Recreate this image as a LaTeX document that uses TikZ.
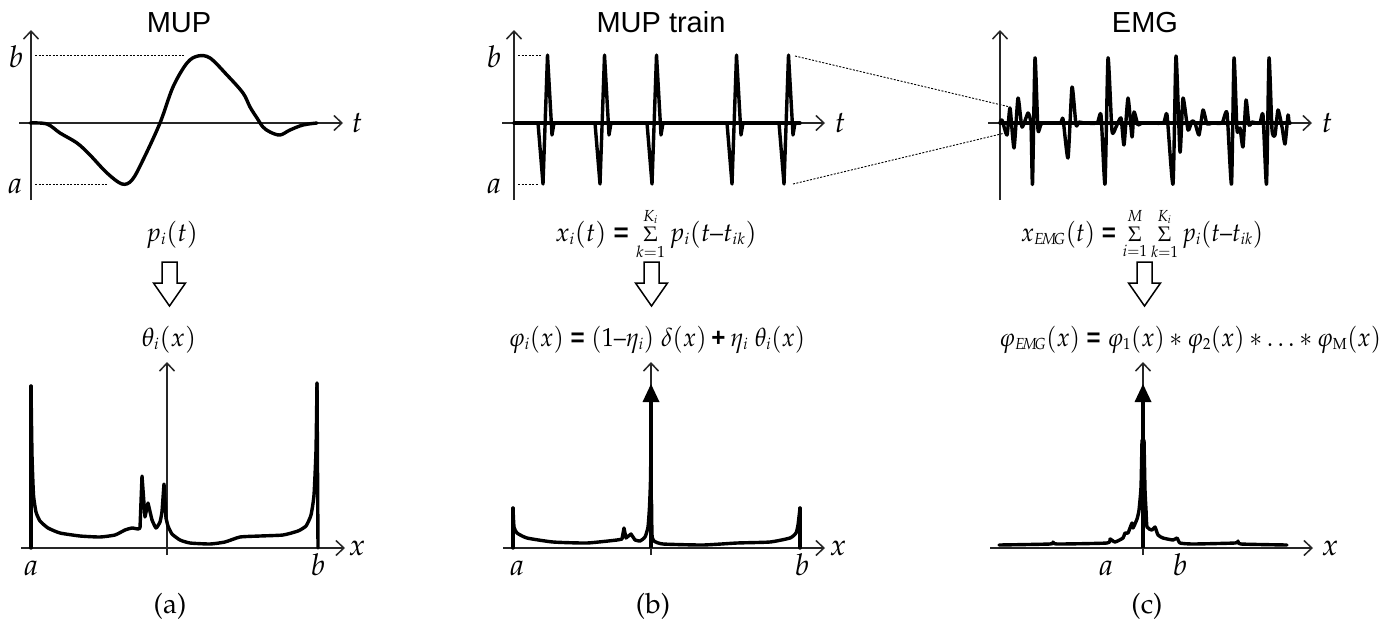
\documentclass[tikz,border=0pt]{standalone}
\usepackage{mathpazo}
\usepackage{graphicx}
\usepackage{fontspec}
\newfontfamily\titlefont{Liberation Sans}
\usetikzlibrary{arrows.meta}
\newcommand{\palafont}{\fontencoding{OT1}\fontfamily{ppl}\selectfont}
\DeclareMathSizes{26}{26}{16}{11}
\newcommand{\eqs}{\mathrel{\hbox{\titlefont\bfseries =}}}
\newcommand{\pls}{\mathbin{\hbox{\titlefont\bfseries +}}}
\newcommand{\ndsh}{\mathord{\hbox{\palafont --}}}
\newcommand{\ssum}{\mathop{\hbox{\fontsize{21}{22}\selectfont$\Sigma$}}\limits}
\tikzset{
  axis/.style={line width=1.5pt, draw=black!85, -{Straight Barb[length=8pt,width=15pt,line width=1.5pt]}},
  curve/.style={line width=3.4pt, line join=round, line cap=round},
  guide/.style={line width=0.9pt, dash pattern=on 2pt off 1.5pt},
  ttl/.style={font=\titlefont\fontsize{29}{34}\selectfont, anchor=base, inner sep=0pt},
  fml/.style={font=\fontsize{26}{30}\selectfont, anchor=base, inner sep=0pt},
  lbl/.style={font=\fontsize{30}{34}\selectfont, anchor=base, inner sep=0pt},
  captxt/.style={font=\palafont\fontsize{28}{32}\selectfont, anchor=base, inner sep=0pt},
  hollow/.style={line width=1.5pt, draw=black, fill=white, line join=miter},
}
\begin{document}
\begin{tikzpicture}[x=1pt,y=-1pt]
\useasboundingbox (0,0) rectangle (1391,627);

% ---------------- titles
\node[ttl] (t1) at (179,32) {MUP};
\node[ttl] (t2) at (661,32) {MUP train};
\node[ttl] (t3) at (1145,32) {EMG};

% ================= panel (a) top
\coordinate (a1s) at (31,200); \coordinate (a1e) at (31,30);
\coordinate (a1l) at (19,123); \coordinate (a1r) at (343,123);
\draw[axis] (a1s) -- (a1e);
\draw[axis] (a1l) -- (a1r);
\coordinate (a1b0) at (35,55); \coordinate (a1b1) at (185,55);
\coordinate (a1a0) at (35,184); \coordinate (a1a1) at (108,184);
\draw[guide] (a1b0) -- (a1b1);
\draw[guide] (a1a0) -- (a1a1);
\node[lbl] (a1b) at (16,67) {$b$};
\node[lbl] (a1a) at (15,193) {$a$};
\node[lbl] (a1t) at (357,132) {$t$};
\draw[curve] plot[smooth, tension=0.55] coordinates {
 (30,123) (47,124) (60,133) (77,143) (90,155) (107,173) (122,184) (132,180)
 (143,160) (160,123) (173,87) (187,63) (198,56) (210,58) (227,75) (243,93)
 (250,107) (257,118) (263,127) (270,132) (280,135) (290,130) (303,125) (317,123)};

% ================= panel (b) top
\coordinate (b1s) at (514,200); \coordinate (b1e) at (514,30);
\coordinate (b1l) at (502,123); \coordinate (b1r) at (825,123);
\draw[axis] (b1s) -- (b1e);
\draw[axis] (b1l) -- (b1r);
\coordinate (b1b0) at (518,55); \coordinate (b1b1) at (542,55);
\coordinate (b1a0) at (518,184); \coordinate (b1a1) at (538,184);
\draw[guide] (b1b0) -- (b1b1);
\draw[guide] (b1a0) -- (b1a1);
\node[lbl] (b1b) at (494,67) {$b$};
\node[lbl] (b1a) at (494,193) {$a$};
\node[lbl] (b1t) at (840,132) {$t$};
\draw[curve] (514,123) -- (800,123);
\foreach \s in {543,600,652,732,784}
  \draw[curve] (\s-5,123) -- (\s,184) -- (\s+4.5,55) -- (\s+9,135) -- (\s+11,123);

% zoom lines
\coordinate (z1) at (795,56); \coordinate (z2) at (1010,107);
\coordinate (z3) at (793,184); \coordinate (z4) at (1005,133);
\draw[guide] (z1) -- (z2);
\draw[guide] (z3) -- (z4);

% ================= panel (c) top
\coordinate (c1s) at (1000,200); \coordinate (c1e) at (1000,30);
\coordinate (c1l) at (988,123); \coordinate (c1r) at (1312,123);
\draw[axis] (c1s) -- (c1e);
\draw[axis] (c1l) -- (c1r);
\node[lbl] (c1t) at (1327,132) {$t$};
\draw[curve] (1000,123) -- (1290,123);
\draw[curve] plot[smooth, tension=0.35] coordinates {
 (1000,123) (1002,120) (1007,135) (1010,108) (1014,148) (1018,98) (1022,127)
 (1028,113) (1031,125) (1032.5,184) (1035,58) (1038,130) (1042,123)
 (1060,123) (1063,119) (1068,158) (1072,87) (1076,125) (1079,122) (1084,123)
 (1097,123) (1101,115) (1105,184) (1108,58) (1112,131) (1116,127) (1121,118)
 (1124,145) (1128,98) (1132,137) (1134,112) (1138,125) (1142,123)
 (1163,123) (1167,115) (1173,184) (1176,56) (1180,152) (1183,98) (1188,130)
 (1192,121) (1195,123) (1199,135) (1203,110) (1207,124) (1212,123)
 (1222,123) (1227,113) (1231.5,184) (1234,58) (1237,130) (1240,128) (1243,147)
 (1246,100) (1249,125) (1252,122) (1256,123)
 (1260,123) (1263,115) (1266.5,184) (1269,58) (1272,130) (1275,135) (1278,110)
 (1282,127) (1285,144) (1288,115) (1289,123)};

% ================= formulas + hollow arrows
\node[fml] (fa1) at (172,241) {$p_i(t)$};
\node[fml] (fb1) at (656,241) {$x_i(t) \eqs \ssum_{k=1}^{K_i} p_i(t\ndsh t_{ik})$};
\node[fml] (fc1) at (1142,241) {\scalebox{0.93}[1]{$x_{E\!M\!G}(t) \eqs \ssum_{i=1}^{M}\ssum_{k=1}^{K_i} p_i(t\ndsh t_{ik})$}};

\foreach \cx/\nm in {169.5/ha, 651.5/hb, 1144.5/hc}
  \draw[hollow] (\cx-7.5,262) -- (\cx+7.5,262) -- (\cx+7.5,283) -- (\cx+16,283)
     -- (\cx,306) -- (\cx-16,283) -- (\cx-7.5,283) -- cycle;

\node[fml] (fa2) at (169,346) {$\theta_i(x)$};
\node[fml] (fb2) at (657,346) {\scalebox{0.93}[1]{$\varphi_i(x) \eqs (1\ndsh\eta_i)\;\delta(x) \pls \eta_i\;\theta_i(x)$}};
\node[fml] (fc2) at (1190,346) {\scalebox{0.92}[1]{$\varphi_{E\!M\!G}(x) \eqs \varphi_1(x) * \varphi_2(x) * \ldots * \varphi_{\mathrm{M}}(x)$}};

% ================= panel (a) bottom
\coordinate (a2s) at (167,555); \coordinate (a2e) at (167,362);
\coordinate (a2l) at (21,548); \coordinate (a2r) at (345,548);
\draw[axis] (a2s) -- (a2e);
\draw[axis] (a2l) -- (a2r);
\node[lbl] (a2x) at (357,555) {$x$};
\node[lbl] (a2a) at (31,575) {$a$};
\node[lbl] (a2b) at (318,575) {$b$};
\draw[curve] (31,548) -- (31,386);
\draw[curve] plot[smooth, tension=0.3] coordinates {
 (31,386) (32,455) (33.5,495) (36,512) (40,521) (48,528) (60,533) (80,536)
 (100,537) (115,535) (125,530) (132,528) (138,529) (140,528)};
\draw[curve] (140,528) -- (142,476) -- (145,517) -- (148,503) -- (152,520);
\draw[curve] plot[smooth, tension=0.3] coordinates {
 (152,520) (156,528) (160,522) (162,512)};
\draw[curve] (162,512) -- (164,484) -- (166,518);
\draw[curve] plot[smooth, tension=0.3] coordinates {
 (166,518) (168,526) (172,534) (180,540) (190,543) (210,544) (225,542)
 (240,537) (260,536) (283,535) (298,531) (306,526) (311,515) (314,495)
 (316,450) (317,383)};
\draw[curve] (317,383) -- (318,548);
\node[captxt] (capa) at (170,613) {(a)};

% ================= panel (b) bottom
\coordinate (b2s) at (651,555); \coordinate (b2e) at (651,362);
\coordinate (b2l) at (503,548); \coordinate (b2r) at (825,548);
\draw[axis] (b2s) -- (b2e);
\draw[axis] (b2l) -- (b2r);
\node[lbl] (b2x) at (838,555) {$x$};
\node[lbl] (b2a) at (517,575) {$a$};
\node[lbl] (b2b) at (802,575) {$b$};
\draw[curve] (513,548) -- (513,508);
\draw[curve] plot[smooth, tension=0.3] coordinates {
 (513,508) (514,527) (517,533) (527,538) (553,542) (587,543) (617,540) (622,539)};
\draw[curve] (622,539) -- (624,528) -- (626,538) -- (631,534) -- (635,540);
\draw[curve] plot[smooth, tension=0.3] coordinates {
 (635,540) (640,541) (645,537) (648,527) (649.5,507) (650.5,480) (651,440)};
\draw[curve] plot[smooth, tension=0.3] coordinates {
 (651.5,500) (652,535) (654,541) (663,544) (703,545) (737,543) (770,542)
 (790,538) (796,533) (798,525) (800,508)};
\draw[curve] (800,508) -- (800,548);
\draw[line width=4pt] (651,548) -- (651,399);
\fill (651,384) -- (659.5,402) -- (642.5,402) -- cycle;
\node[captxt] (capb) at (653,613) {(b)};

% ================= panel (c) bottom
\coordinate (c2s) at (1143,555); \coordinate (c2e) at (1143,362);
\coordinate (c2l) at (990,548); \coordinate (c2r) at (1313,548);
\draw[axis] (c2s) -- (c2e);
\draw[axis] (c2l) -- (c2r);
\node[lbl] (c2x) at (1330,555) {$x$};
\node[lbl] (c2a) at (1106,575) {$a$};
\node[lbl] (c2b) at (1180,575) {$b$};
\draw[curve] plot[smooth, tension=0.3] coordinates {
 (999,545) (1050,544) (1053,542) (1057,544) (1107,543) (1110,539) (1115,542)
 (1123,538) (1125,533) (1128,533) (1132,523) (1133,528) (1137,519) (1139,510)
 (1141,487) (1142,440)};
\draw[curve] plot[smooth, tension=0.3] coordinates {
 (1144,440) (1145,490) (1146,510) (1147,527) (1152,530) (1155,527) (1158,535)
 (1163,538) (1173,540) (1177,538) (1180,543) (1193,544) (1235,543) (1238,541)
 (1241,544) (1287,545)};
\draw[line width=4pt] (1143,548) -- (1143,399);
\fill (1143,384) -- (1151.5,402) -- (1134.5,402) -- cycle;
\node[captxt] (capc) at (1147,613) {(c)};
\end{tikzpicture}
\end{document}
